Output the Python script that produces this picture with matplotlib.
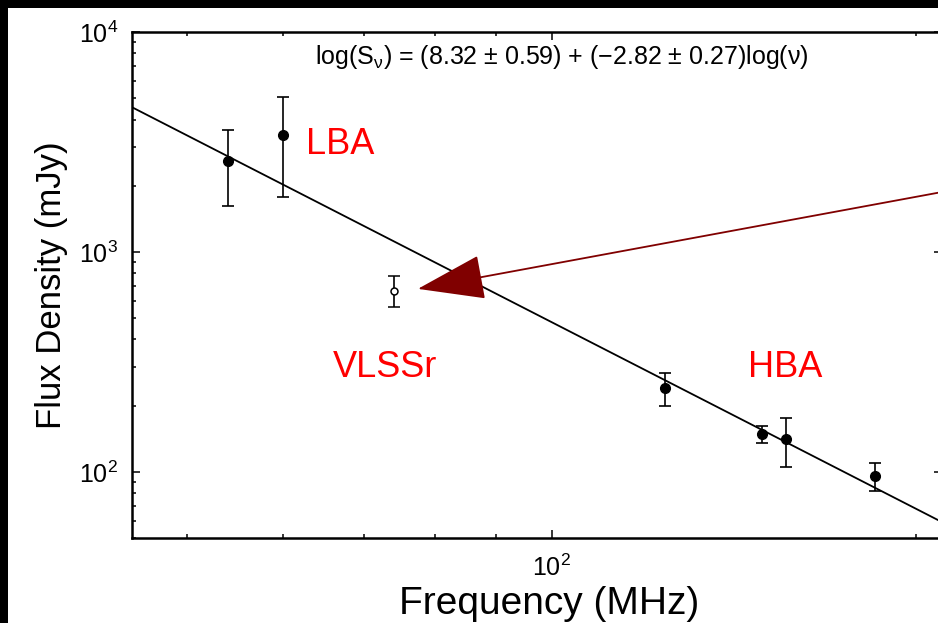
import numpy as np
import matplotlib
matplotlib.use("Agg")
import matplotlib.pyplot as plt
from matplotlib.patches import Rectangle
from matplotlib.ticker import NullFormatter

plt.rcParams['font.family'] = ['Liberation Sans', 'DejaVu Sans']
plt.rcParams['mathtext.fontset'] = 'custom'
plt.rcParams['mathtext.rm'] = 'Liberation Sans'
plt.rcParams['mathtext.it'] = 'Liberation Sans:italic'

# LOFAR LBA points (MHz, mJy)
lba_freq = [54, 60]
lba_flux = [2600, 3400]
lba_low = [1610, 1775]
lba_high = [3570, 5050]

# VLSSr point
vlss_freq = [74]
vlss_flux = [667]
vlss_low = [561]
vlss_high = [778]

# LOFAR HBA points
hba_freq = [124, 149, 156, 185]
hba_flux = [240, 149, 141, 96]
hba_low = [200, 135, 105, 82]
hba_high = [281, 162, 176, 110]

# fitted power law, log(S) = a + b log(nu)
fit_a = 8.32
fit_b = -2.82

xlims = (45, 210)
ylims = (50, 1e4)


def yerr(flux, low, high):
    flux = np.array(flux)
    return [flux - np.array(low), np.array(high) - flux]


fig = plt.figure(figsize=(9.38, 6.23), dpi=100, facecolor='black')
fig.add_artist(Rectangle((8 / 938, 0), 1, 1 - 8 / 623, transform=fig.transFigure,
                         facecolor='white', edgecolor='none', zorder=-10))
ax = fig.add_axes([132 / 938, 85 / 623, 810 / 938, 506 / 623])
ax.set_xscale('log')
ax.set_yscale('log')
ax.set_xlim(xlims)
ax.set_ylim(ylims)

nu = np.array(xlims)
ax.plot(nu, 10 ** (fit_a + fit_b * np.log10(nu)), color='black', lw=1.3, zorder=2)

eb = dict(fmt='o', color='black', ecolor='black', elinewidth=1.2, capsize=4.5, capthick=1.2, zorder=3)
ax.errorbar(lba_freq, lba_flux, yerr=yerr(lba_flux, lba_low, lba_high), ms=7, **eb)
ax.errorbar(hba_freq, hba_flux, yerr=yerr(hba_flux, hba_low, hba_high), ms=7, **eb)
ax.errorbar(vlss_freq, vlss_flux, yerr=yerr(vlss_flux, vlss_low, vlss_high), ms=5,
            mfc='white', mew=1.1, **eb)

ax.annotate('', xy=(77.5, 679), xytext=(234, 2090),
            arrowprops=dict(arrowstyle='-|>,head_length=3,head_width=1', mutation_scale=14.5,
                            color='#800000', lw=1.3, shrinkA=0, shrinkB=0),
            annotation_clip=False, zorder=4)

ax.text(0.215, 0.777, 'LBA', color='red', fontsize=26, ha='left', va='center', transform=ax.transAxes)
ax.text(0.248, 0.336, 'VLSSr', color='red', fontsize=26, ha='left', va='center', transform=ax.transAxes)
ax.text(0.760, 0.336, 'HBA', color='red', fontsize=26, ha='left', va='center', transform=ax.transAxes)
ax.text(0.531, 0.937, r'log(S$_{\mathrm{\nu}}$) = (8.32 ± 0.59) + (−2.82 ± 0.27)log(ν)',
        fontsize=18, ha='center', va='baseline', transform=ax.transAxes)

ax.xaxis.set_minor_formatter(NullFormatter())
ax.yaxis.set_minor_formatter(NullFormatter())
ax.tick_params(which='both', direction='in', top=True, right=True, width=1.1, colors='black')
ax.tick_params(which='major', length=5.8, labelsize=18)
ax.tick_params(which='minor', length=3)
ax.tick_params(axis='x', pad=12)
ax.tick_params(axis='y', pad=10)
for s in ax.spines.values():
    s.set_linewidth(1.8)

ax.set_xlabel('Frequency (MHz)', fontsize=28)
ax.set_ylabel('Flux Density (mJy)', fontsize=25)
ax.xaxis.set_label_coords(0.515, -0.095)
ax.yaxis.set_label_coords(-0.079, 0.5)

fig.savefig('out.png', dpi=100, facecolor=fig.get_facecolor())
